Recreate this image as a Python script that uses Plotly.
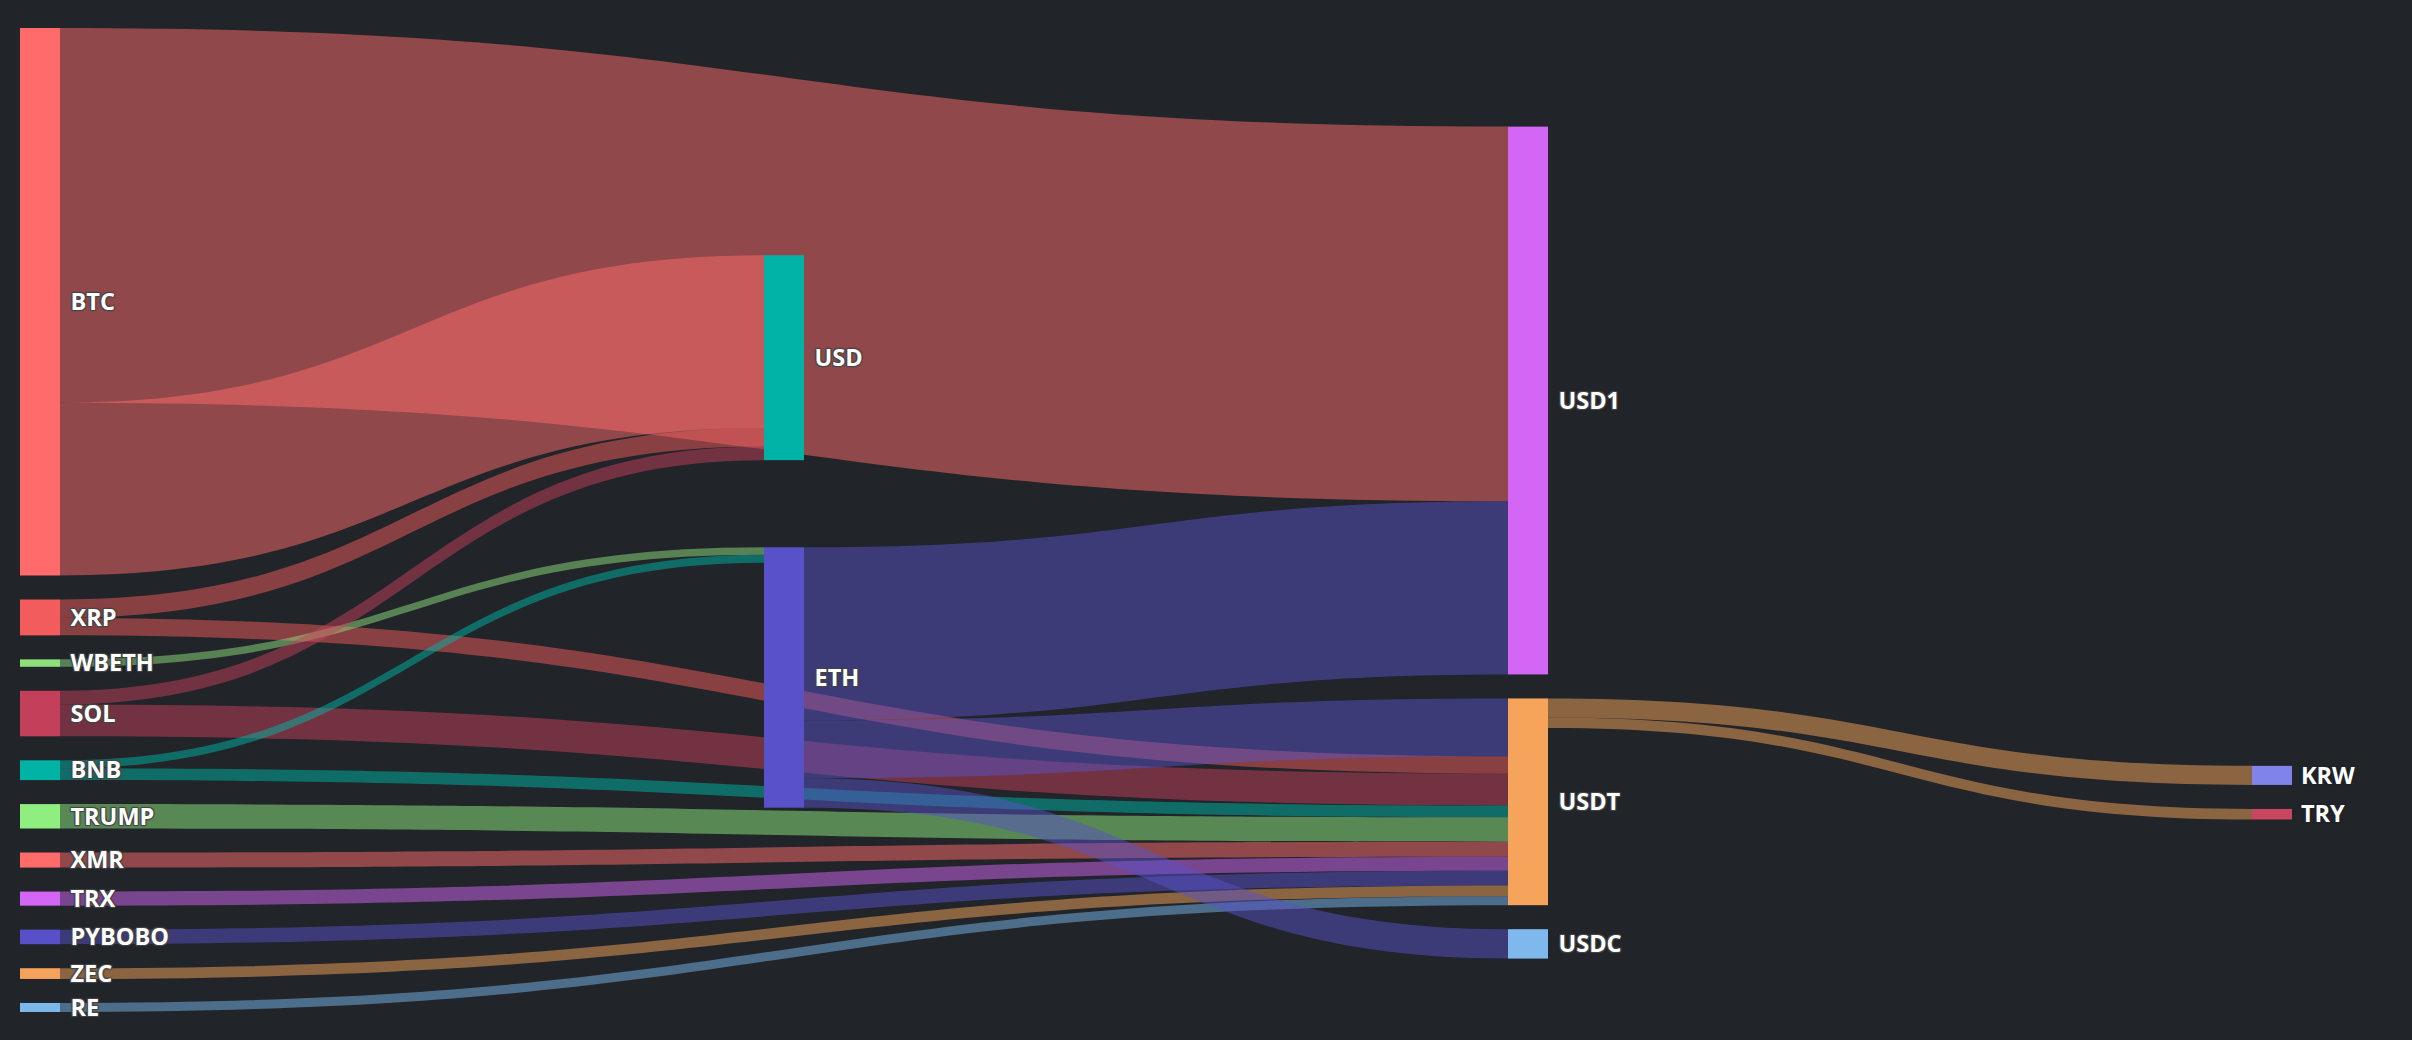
import plotly.graph_objects as go

# nodes of the flow chart, in column order
nodes = ["BTC", "XRP", "WBETH", "SOL", "BNB", "TRUMP", "XMR", "TRX", "PYBOBO", "ZEC", "RE",
         "USD", "ETH",
         "USD1", "USDT", "USDC",
         "KRW", "TRY"]

node_colors = ["#ff6b6b", "#f25c5c", "#8fe07d", "#c4405a", "#00b3a4", "#90ee80", "#ff6b6b",
               "#d466f5", "#5850c8", "#f5a35c", "#7ab8ec",
               "#00b3a6", "#5851c8",
               "#d466f5", "#f6a35c", "#7eb8ec",
               "#7f83ea", "#c8465f"]

# flows (from -> to, value)
flow_from  = ["BTC", "BTC", "XRP", "XRP", "WBETH", "SOL", "SOL", "BNB", "BNB", "TRUMP",
              "XMR", "TRX", "PYBOBO", "ZEC", "RE", "ETH", "ETH", "ETH", "USDT", "USDT"]
flow_to    = ["USD1", "USD", "USD", "USDT", "ETH", "USD", "USDT", "ETH", "USDT", "USDT",
              "USDT", "USDT", "USDT", "USDT", "USDT", "USD1", "USDT", "USDC", "KRW", "TRY"]
flow_value = [373, 172, 18.4, 17.3, 7.4, 13.6, 31.7, 8.0, 11.7, 24.3,
              15.0, 14.0, 14.5, 10.7, 9.0, 172.3, 57.6, 29.3, 19.0, 10.5]

# last column: plotly would put these labels left of the node, the original has them right
right_labels = ["KRW", "TRY"]
right_label_y = [0.2409, 0.2022]   # paper y of those node centres

bg = "#212429"
label_font = dict(family="Open Sans", size=23.5, color="#ffffff", weight="bold")


def rgba(hex_col, a):
    h = hex_col.lstrip("#")
    r, g, b = int(h[0:2], 16), int(h[2:4], 16), int(h[4:6], 16)
    return f"rgba({r},{g},{b},{a})"


idx = {n: i for i, n in enumerate(nodes)}
src = [idx[s] for s in flow_from]
tgt = [idx[t] for t in flow_to]
link_colors = [rgba(node_colors[idx[s]], 0.5) for s in flow_from]
shown = ["" if n in right_labels else n for n in nodes]

fig = go.Figure(go.Sankey(
    arrangement="snap",
    node=dict(
        label=shown,
        customdata=nodes,
        hovertemplate="%{customdata}<extra></extra>",
        color=node_colors,
        pad=24,
        thickness=40,
        # invisible outline, only used to push the labels a bit off the nodes
        line=dict(width=15, color="rgba(0,0,0,0)"),
        align="left",
    ),
    link=dict(
        source=src,
        target=tgt,
        value=flow_value,
        color=link_colors,
    ),
    textfont=label_font,
))

shadow = f"1px 1px 1px {bg}, -1px -1px 1px {bg}, 1px -1px 1px {bg}, -1px 1px 1px {bg}"
for lab, yy in zip(right_labels, right_label_y):
    fig.add_annotation(
        text=lab, xref="paper", yref="paper",
        x=1.0, y=yy, xanchor="left", yanchor="middle",
        xshift=7, showarrow=False,
        font=dict(label_font, shadow=shadow),
    )

fig.update_layout(
    width=2412, height=1040,
    paper_bgcolor=bg,
    plot_bgcolor=bg,
    margin=dict(l=20, r=120, t=28, b=28),
)

fig.write_html("out.html",
               config={"displayModeBar": False},
               post_script=f"document.body.style.margin='0';"
                           f"document.body.style.background='{bg}';"
                           f"document.body.style.overflow='hidden';")
